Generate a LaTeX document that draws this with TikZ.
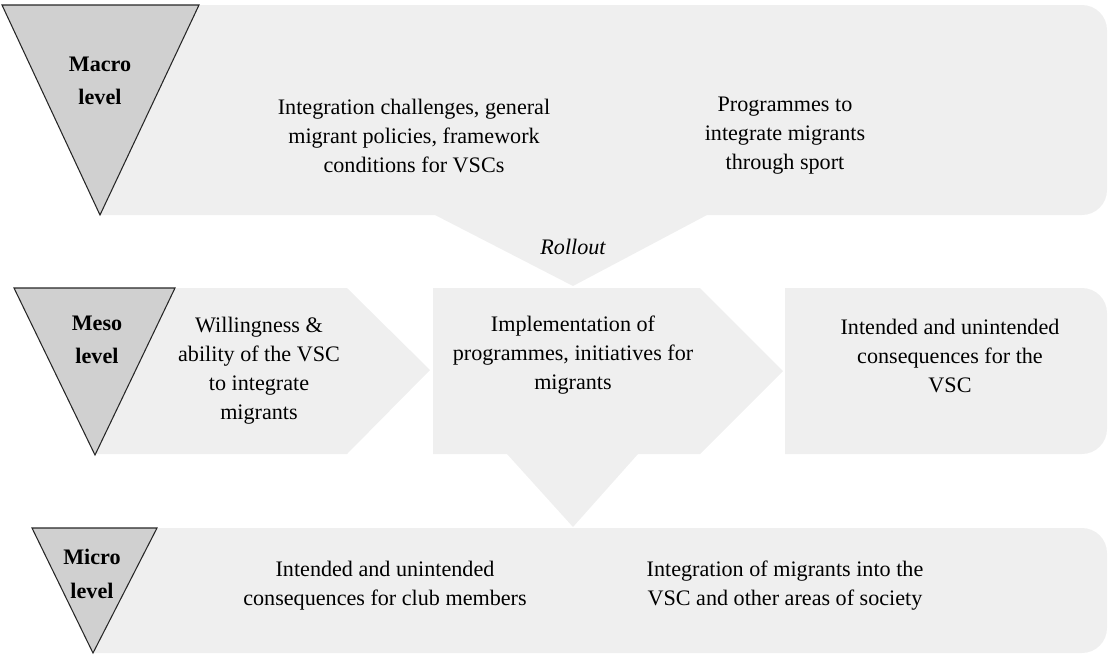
\documentclass[tikz,border=0pt]{standalone}
\usepackage{fontspec}
\setmainfont{Liberation Serif}
\definecolor{bandgray}{HTML}{EFEFEF}
\definecolor{markgray}{HTML}{D0D0D0}
\tikzset{
	band/.style={fill=bandgray},
	levelmark/.style={draw=black!85, fill=markgray, line width=0.6pt, line join=miter},
	levellabel/.style={align=center, font=\fontsize{12.6}{19}\selectfont\bfseries},
	bodytext/.style={align=center, font=\fontsize{12.6}{16.5}\selectfont}
}

\begin{document}
\begin{tikzpicture}[x=0.02cm, y=-0.02cm]
			%%%%% START %%%%%
			\useasboundingbox (0, 0) rectangle (1110, 657);
			
			% macro band with the rollout chevron
			\fill[band] (100, 5) [rounded corners=0.5cm] -- (1107, 5) -- (1107, 215) [sharp corners] -- (707, 215) -- (573, 286) -- (435, 215) -- (100, 215) -- cycle;
			
			% meso row
			\fill[band] (95, 288) -- (347, 288) -- (430, 370) -- (347, 454) -- (95, 454) -- cycle;
			\fill[band] (433, 288) -- (700, 288) -- (783, 371) -- (700, 454) -- (638, 454) -- (573, 527) -- (507, 454) -- (433, 454) -- cycle;
			\fill[band] (785, 288) [rounded corners=0.5cm] -- (1107, 288) -- (1107, 454) [sharp corners] -- (785, 454) -- cycle;
			
			% micro band
			\fill[band] (93, 528) [rounded corners=0.5cm] -- (1107, 528) -- (1107, 653) [sharp corners] -- (93, 653) -- cycle;
			
			% level triangles
			\draw[levelmark] (2, 5) -- (199, 5) -- (100, 215) -- cycle;
			\draw[levelmark] (14, 288) -- (175, 288) -- (95, 455) -- cycle;
			\draw[levelmark] (32, 528) -- (157, 528) -- (93, 653) -- cycle;
			
			\node[levellabel] (macro) at (100, 81) {Macro\\level};
			\node[levellabel] (meso) at (97, 340) {Meso\\level};
			\node[levellabel] (micro) at (92, 574) {Micro\\level};
			
			% texts
			\node[bodytext] (challenges) at (414, 136) {Integration challenges, general\\migrant policies, framework\\conditions for VSCs};
			\node[bodytext] (programmes) at (785, 136) {Programmes to\\integrate migrants\\through sport};
			\node[bodytext, font=\fontsize{12.6}{16.5}\selectfont\itshape] (rollout) at (573, 247) {Rollout};
			
			\node[bodytext] (willingness) at (259, 371) {Willingness \&\\ability of the VSC\\to integrate\\migrants};
			\node[bodytext] (implementation) at (573, 355) {Implementation of\\programmes, initiatives for\\migrants};
			\node[bodytext] (clubcons) at (950, 356) {Intended and unintended\\consequences for the\\VSC};
			
			\node[bodytext] (membercons) at (385, 586) {Intended and unintended\\consequences for club members};
			\node[bodytext] (society) at (785, 586) {Integration of migrants into the\\VSC and other areas of society};
			%%%%% END %%%%%
\end{tikzpicture}
\end{document}
